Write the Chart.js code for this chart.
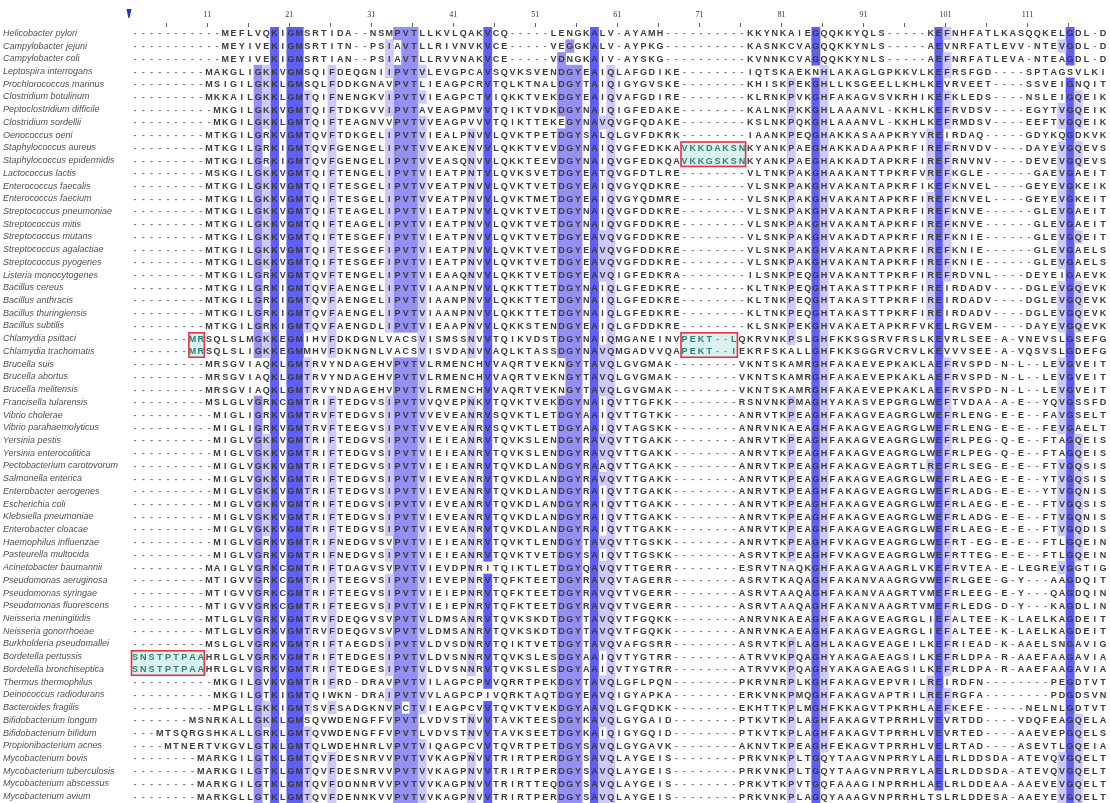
<!DOCTYPE html>
<html>
<head>
<meta charset="utf-8">
<script src="https://cdn.jsdelivr.net/npm/chart.js@4.4.1/dist/chart.umd.min.js"></script>
<style>
html,body{margin:0;padding:0;background:#fff;overflow:hidden;}
canvas{display:block;}
</style>
</head>
<body>
<canvas id="c" width="1110" height="803"></canvas>
<script>
// ---------------- DATA ----------------
const species = [
"Helicobacter pylori","Campylobacter jejuni","Campylobacter coli","Leptospira interrogans","Prochlorococcus marinus",
"Clostridium botulinum","Peptoclostridium difficile","Clostridium sordellii","Oenococcus oeni","Staphylococcus aureus",
"Staphylococcus epidermidis","Lactococcus lactis","Enterococcus faecalis","Enterococcus faecium","Streptococcus pneumoniae",
"Streptococcus mitis","Streptococcus mutans","Streptococcus agalactiae","Streptococcus pyogenes","Listeria monocytogenes",
"Bacillus cereus","Bacillus anthracis","Bacillus thuringiensis","Bacillus subtilis","Chlamydia psittaci",
"Chlamydia trachomatis","Brucella suis","Brucella abortus","Brucella melitensis","Francisella tularensis",
"Vibrio cholerae","Vibrio parahaemolyticus","Yersinia pestis","Yersinia enterocolitica","Pectobacterium carotovorum",
"Salmonella enterica","Enterobacter aerogenes","Escherichia coli","Klebsiella pneumoniae","Enterobacter cloacae",
"Haemophilus influenzae","Pasteurella multocida","Acinetobacter baumannii","Pseudomonas aeruginosa","Pseudomonas syringae",
"Pseudomonas fluorescens","Neisseria meningitidis","Neisseria gonorrhoeae","Burkholderia pseudomallei","Bordetella pertussis",
"Bordetella bronchiseptica","Thermus thermophilus","Deinococcus radiodurans","Bacteroides fragilis","Bifidobacterium longum",
"Bifidobacterium bifidum","Propionibacterium acnes","Mycobacterium bovis","Mycobacterium tuberculosis","Mycobacterium abscessus",
"Mycobacterium avium"
];

// alignment columns 1-41 / 42-81 / 82-119
const seqLeft = [
"-----------MEFLVQKIGMSRTIDA--NSMPVTLLKVLQ",
"-----------MEYIVEKIGMSRTITN--PSIAVTLLRIVN",
"-----------MEYIVEKIGMSRTIAN--PSIAVTLLRVVN",
"---------MAKGLIGKKVGMSQIFDEQGNIIPVTVLEVGP",
"---------MSIGILGKKLGMSQLFDDKGNAVPVTLIEAGP",
"---------MKKAILGKKLGMTQIFNENGKVIPVTVIEAGP",
"----------MKGILGKKVGMTQIFTDKGVVIPVTAVEAGP",
"----------MKGILGKKLGMTQIFTEAGNVVPVTVVEAGP",
"---------MTKGILGRKVGMTQVFTDKGELIPVTVIEALP",
"---------MTKGILGRKIGMTQVFGENGELIPVTVVEAKE",
"---------MTKGILGRKIGMTQVFGENGELIPVTVVEASQ",
"---------MSKGILGKKVGMTQIFTENGELIPVTVIEATP",
"---------MTKGILGKKVGMTQIFTESGELIPVTVVEATP",
"---------MTKGILGKKVGMTQIFTESGELIPVTVVEATP",
"---------MTKGILGKKVGMTQIFTEAGELIPVTVIEATP",
"---------MTKGILGKKVGMTQIFTEAGELIPVTVIEATP",
"---------MTKGILGKKVGMTQIFTESGEFIPVTVIEATP",
"---------MTKGILGKKVGMTQIFTESGEFIPVTVIEATP",
"---------MTKGILGKKVGMTQIFTESGEFIPVTVIEATP",
"---------MTKGILGRKVGMTQVFTENGELIPVTVIEAAQ",
"---------MTKGILGRKIGMTQVFAENGELIPVTVIAANP",
"---------MTKGILGRKIGMTQVFAENGELIPVTVIAANP",
"---------MTKGILGRKIGMTQVFAENGELIPVTVIAANP",
"---------MTKGILGRKIGMTQVFAENGDLIPVTVIEAAP",
"-------MRSQLSLMGKKEGMIHVFDKDGNLVACSVISMSS",
"-------MRSQLSLIGKKEGMMHVFDKNGNLVACSVISVDA",
"---------MRSGVIAQKLGMTRVYNDAGEHVPVTVLRMEN",
"---------MRSGVIAQKLGMTRVYNDAGEHVPVTVLRMEN",
"---------MRSGVIAQKLGMTRVYNDAGEHVPVTVLRMEN",
"---------MSLGLVGRKCGMTRIFTEDGVSIPVTVVQVEP",
"----------MIGLIGRKVGMTRVFTEDGVSIPVTVVEVEA",
"----------MIGLIGRKVGMTRVFTEEGVSIPVTVVEVEA",
"----------MIGLVGKKVGMTRIFTEDGVSIPVTVIEIEA",
"----------MIGLVGKKVGMTRIFTEDGVSIPVTVIEIEA",
"----------MIGLVGKKVGMTRIFTEDGVSIPVTVIEIEA",
"----------MIGLVGKKVGMTRIFTEDGVSIPVTVIEVEA",
"----------MIGLVGKKVGMTRIFTEDGVSIPVTVIEVEA",
"----------MIGLVGKKVGMTRIFTEDGVSIPVTVIEVEA",
"----------MIGLVGKKVGMTRIFTEDGVSIPVTVIEVEA",
"----------MIGLVGKKVGMTRIFTEDGVSIPVTVIEVEA",
"----------MIGLVGRKVGMTRIFNEDGVSVPVTVIEIEA",
"----------MIGLVGRKVGMTRIFNEDGVSIPVTVIEIEA",
"---------MAIGLVGRKCGMTRIFTDAGVSVPVTVIEVDP",
"---------MTIGVVGRKCGMTRIFTEEGVSIPVTVIEVEP",
"---------MTIGVVGRKCGMTRIFTEEGVSIPVTVIEIEP",
"---------MTIGVVGRKCGMTRIFTEEGVSIPVTVIEIEP",
"---------MTLGLVGRKVGMTRVFDEQGVSVPVTVLDMSA",
"---------MTLGLVGRKVGMTRVFDEQGVSVPVTVLDMSA",
"---------MSLGLVGRKVGMTRIFTAEGDSIPVTVLDVSD",
"SNSTPTPAAHRLGLVGRKVGMTRIFTEDGESIPVTVLDVSN",
"SNSTPTPAAHRLGLVGRKVGMTRIFTEDGESIPVTVLDVSN",
"----------MKGILGVKVGMTRIFRD-DRAVPVTVILAGP",
"----------MKGILGTKIGMTQIWKN-DRAIPVTVVLAGP",
"----------MPGLLGKKIGMTSVFSADGKNVPCTVIEAGP",
"-------MSNRKALLGKKLGMSQVWDENGFFVPVTLVDVST",
"---MTSQRGSHKALLGRKLGMTQVWDENGFFVPVTLVDVST",
"----MTNERTVKGVLGTKLGMTQLWDEHNRLVPVTVIQAGP",
"--------MARKGILGTKLGMTQVFDESNRVVPVTVVKAGP",
"--------MARKGILGTKLGMTQVFDESNRVVPVTVVKAGP",
"--------MARKGILGTKLGMTQVFDDNNRVVPVTVVKAGP",
"--------MARKGLLGTKLGMTQVFDENNKVVPVTVVKAGP"
];
const seqMid = [
"AKVCQ-----LENGKALV-AYAMH----------KKYNKA",
"VKVCE-----VEGGKALV-AYPKG----------KASNKC",
"AKVCE-----VDNGKAIV-AYSKG----------KVNNKC",
"CAVSQVKSVENDGYEAIQLAFGDIKE--------IQTSKA",
"CRVTQLKTNALDGYTAIQIGYGVSKE--------KHISKP",
"CTVIQKKTVEKDGYEAIQVAFGDIRE--------KLRNKP",
"MVVTQIKTVDKDGYNAIQIGFEDAKE--------KALNKP",
"VVVTQIKTTEKEGYNAVQVGFQDAKE--------KSLNKP",
"NVVLQVKTPETDGYSALQLGVFDKRK--------IAANKP",
"NVVLQKKTVEVDGYNAIQVGFEDKKAVKKDAKSNKYANKP",
"NVVLQKKTEEVDGYNAIQVGFEDKQAVKKGSKSNKYANKP",
"NTVLQVKSVETDGYEATQVGFDTLRE--------VLTNKP",
"NVVLQVKTVETDGYEAIQVGYQDKRE--------VLSNKP",
"NVVLQVKTMETDGYEAIQVGYQDMRE--------VLSNKP",
"NVVLQVKTVETDGYNAIQVGFDDKRE--------VLSNKP",
"NVVLQVKTVETDGYNAIQVGFDDKRE--------VLSNKP",
"NVVLQVKTVETDGYEAVQVGFDDKRE--------VLSNKP",
"NVVLQVKTVETDGYEAVQVGFDDKRE--------VLSNKP",
"NVVLQVKTVETDGYEAVQVGFDDKRE--------VLSNKP",
"NVVLQKKTVETDGYEAVQIGFEDKRA--------ILSNKP",
"NVVLQKKTTETDGYNAIQLGFEDKRE--------KLTNKP",
"NVVLQKKTTETDGYNAIQLGFEDKRE--------KLTNKP",
"NVVLQKKTTETDGYNAIQLGFEDKRE--------KLTNKP",
"NVVLQKKSTENDGYEAIQLGFDDKRE--------KLSNKP",
"NVVTQIKVDSTDGYNAIQMGANEINVPEKT--LQKRVNKP",
"NVVAQLKTASSDGYNAVQMGADVVQAPEKT--IEKRFSKA",
"CHVVAQRTVEKNGYTAVQLGVGMAK--------VKNTSKA",
"CHVVAQRTVEKNGYTAVQLGVGMAK--------VKNTSKA",
"CHVVAQRTVEKNGYTAVQLGVGMAK--------VKNTSKA",
"NKVTQVKTVEKDGYNAIQVTTGFKK--------RSNVNKP",
"NRVSQVKTLETDGYAAIQVTTGTKK--------ANRVTKP",
"NRVSQVKTLETDGYAAIQVTAGSKK--------ANRVNKA",
"NRVTQVKSLENDGYRAVQVTTGAKK--------ANRVTKP",
"NRVTQVKSLENDGYRAVQVTTGAKK--------ANRVTKP",
"NRVTQVKDLANDGYRAAQVTTGAKK--------ANRVTKP",
"NRVTQVKDLANDGYRAVQVTTGAKK--------ANRVTKP",
"NRVTQVKDLANDGYRAIQVTTGAKK--------ANRVTKP",
"NRVTQVKDLANDGYRAIQVTTGAKK--------ANRVTKP",
"NRVTQVKDLANDGYRAIQVTTGAKK--------ANRVTKP",
"NRVTQVKDLANDGYRAIQVTTGAKK--------ANRVTKP",
"NRVTQVKTLENDGYTAVQVTTGSKK--------ANRVTKP",
"NRVTQVKTVETDGYSAIQVTTGSKK--------ASRVTKP",
"NRITQIKTLETDGYQAVQVTTGERR--------ESRVTNA",
"NRVTQFKTEETDGYRAVQVTAGERR--------ASRVTKA",
"NRVTQFKTEETDGYRAVQVTVGERR--------ASRVTAA",
"NRVTQFKTEETDGYRAVQVTVGERR--------ASRVTAA",
"NRVTQVKSKDTDGYTAVQVTFGQKK--------ANRVNKA",
"NRVTQVKSKDTDGYTAVQVTFGQKK--------ANRVNKA",
"NRVTQIKTVETDGYTAVQVAFGSRR--------ASRVTKP",
"NRVTQVKSLESDGYAAIQVTYGTRR--------ATRVVKP",
"NRVTQVKSLESDGYAAIQVTYGTRR--------ATRVVKP",
"CPVVQRRTPEKDGYTAVQLGFLPQN--------PKRVNRP",
"CPIVQRKTAQTDGYEAVQIGYAPKA--------ERKVNKP",
"CVVTQVKTVEKDGYAAVQLGFQDKK--------EKHTTKP",
"NVVTAVKTEESDGYKAVQLGYGAID--------PTKVTKP",
"NVVTAVKSEETDGYKAIQIGYGQID--------PTKVTKP",
"CVVTQVRTPETDGYSAVQLGYGAVK--------AKNVTKP",
"NVVTRIRTPERDGYSAVQLAYGEIS--------PRKVNKP",
"NVVTRIRTPERDGYSAVQLAYGEIS--------PRKVNKP",
"NVVTRIRTTEQDGYSAVQLAYGEIS--------PRKVTKP",
"NVVTRIRTPERDGYSAVQLAYGEIS--------PRKVNKP"
];
const seqRight = [
"IEGQQKKYQLS-----KEFNHFATLKASQQKELGDL-D",
"VAGQQKKYNLS-----AEVNRFATLEVV-NTEVGDL-D",
"VAGQQKKYNLS-----AEFNRFATLEVA-NTEAGDL-D",
"EKNHLAKAGLGPKKVLKEFRSFGD----SPTAGSVLKI",
"EKGHLLKSGEELLKHLKEVRVEET----SSVEIGNQIT",
"VKGHFAKAGVSVKRHIKEFKLEDS----NSLEIGQEIK",
"KKGHLAAANVL-KKHLKEFRVDSV----EGYTVGQEIK",
"QKGHLAAANVL-KKHLKEFRMDSV----EEFTVGQEIK",
"EQGHAKKASAAPKRYVREIRDAQ-----GDYKQGDKVK",
"AEGHAKKADAAPKRFIREFRNVDV----DAYEVGQEVS",
"AEGHAKKADTAPKRFIREFRNVNV----DEVEVGQEVS",
"AKGHAAKANTTPKRFVREFKGLE------GAEVGAEIT",
"AKGHVAKANTAPKRFIKEFKNVEL----GEYEVGKEIK",
"AKGHVAKANTAPKRFIREFKNVEL----GEYEVGKEIT",
"AKGHVAKANTAPKRFIREFKNVE------GLEVGAEIT",
"AKGHVAKANTAPKRFIREFKNVE------GLEVGAEIT",
"AKGHVAKADTAPKRFIREFKNIE------GLEVGQEIT",
"AKGHVAKANTAPKRFIREFKNIE------GLEVGAELS",
"AKGHVAKANTAPKRFIREFKNIE------GLEVGAELS",
"EQGHVAKANTTPKRFIREFRDVNL----DEYEIGAEVK",
"EQGHTAKASTTPKRFIREIRDADV----DGLEVGQEVK",
"EQGHTAKASTTPKRFIREIRDADV----DGLEVGQEVK",
"EQGHTAKASTTPKRFIREIRDADV----DGLEVGQEVK",
"EKGHVAKAETAPKRFVKELRGVEM----DAYEVGQEVK",
"SLGHFKKSGSRVFRSLKEVRLSEE-A-VNEVSLGSEFG",
"LLGHFKKSGGRVCRVLKEVVVSEE-A-VQSVSLGDEFG",
"MRGHFAKAEVEPKAKLAEFRVSPD-N-L--LEVGVEIT",
"MRGHFAKAEVEPKAKLAEFRVSPD-N-L--LEVGVEIT",
"MRGHFAKAEVEPKAKLAEFRVSPD-N-L--LEVGVEIT",
"MAGHYAKASVEPGRGLWEFTVDAA-A-E--YQVGSSFD",
"EAGHFAKAGVEAGRGLWEFRLENG-E-E--FAVGSELT",
"EAGHFAKAGVEAGRGLWEFRLENG-E-E--FEVGAELT",
"EAGHFAKAGVEAGRGLWEFRLPEG-Q-E--FTAGQEIS",
"EAGHFAKAGVEAGRGLWEFRLPEG-Q-E--FTAGQEIS",
"EAGHFAKAGVEAGRTLREFRLSEG-E-E--FTVGQSIS",
"EAGHFAKAGVEAGRGLWEFRLAEG-E-E--YTVGQSIS",
"EAGHFAKAGVEAGRGLWEFRLADG-E-E--YTVGQNIS",
"EAGHFAKAGVEAGRGLWEFRLAEG-E-E--FTVGQSIS",
"EAGHFAKAGVEAGRGLWEFRLADG-E-E--FTVGQNIS",
"EAGHFAKAGVEAGRGLWEFRLAEG-E-E--FTVGQDIS",
"EAGHFVKAGVEAGRGLWEFRT-EG-E-E--FTLGQEIN",
"EAGHFVKAGVEAGRGLWEFRTTEG-E-E--FTLGQEIN",
"QKGHFAKAGVAAGRLVKEFRVTEA-E-LEGREVGGTIG",
"QAGHFAKANVAAGRGVWEFRLGEE-G-Y---AAGDQIT",
"QAGHFAKANVAAGRTVMEFRLEEG-E-Y---QAGDQIN",
"QAGHFAKANVAAGRTVMEFRLEDG-D-Y---KAGDLIN",
"EAGHFAKAGVEAGRGLIEFALTEE-K-LAELKAGDEIT",
"EAGHFAKAGVEAGRGLIEFALTEE-K-LAELKAGDEIT",
"LAGHLAKAGVEAGEILKEFRIEAD-K-AAELSNGAVIG",
"QAGHYAKAGAEAGSILKEFRLDPA-R-AAEFAAGAVIA",
"QAGHYAKAGAEAGSILKEFRLDPA-R-AAEFAAGAVIA",
"LKGHFAKAGVEPVRILREIRDFN--------PEGDTVT",
"MQGHFAKAGVAPTRILREFRGFA--------PDGDSVN",
"LMGHFKKAGVTPKRHLAEFKEFE-----NELNLGDTVT",
"LAGHFAKAGVTPRRHLVEVRTDD----VDQFEAGQELA",
"LAGHFAKAGVTPRRHLVEVRTED----AAEVEPGQELS",
"EAGHFEKAGVTPRRHLVELRTAD----ASEVTLGQEIA",
"LTGQYTAAGVNPRRYLAELRLDDSDA-ATEVQVGQELT",
"LTGQYTAAGVNPRRYLAELRLDDSDA-ATEVQVGQELT",
"VTGQFAAAGINPRRHLAELRLDDEAA-AAEVEVGQELT",
"LAGQYAAAGVNPRRHLTSLRLDDESA-AAEYEVGQELT"
];

const rulerNumbers = [11,21,31,41,51,61,71,81,91,101,111];
const rulerDots = [6,16,26,36,46,56,66,76,86,96,106,116];

// sequence groups (1-based rows / columns)
const groupRows = [[10,11],[25,26],[25,26],[50,51]];
const groupCols = [[68,75],[8,9],[68,74],[1,9]];

// identity shading: column -> level (3 dark, 2 medium, 1 light)
const shadeColumns = [16,17,18,20,21,22,25,32,33,34,35,36,42,44,53,54,55,57,58,59,81,84,85,98,99,100,114,115,116];
const shadeLevels  = [ 2, 1, 3, 3, 3, 1, 1, 1, 2, 2, 2, 1, 1, 3, 2, 2, 2, 3, 1, 1, 1, 3, 1, 1, 3, 1, 1, 3, 1];
const shadeColors = {3:'#5f5ff5', 2:'#9490f4', 1:'#cdc9f8'};

// ---------------- BUILD ----------------
const alignment = species.map((s,i)=>seqLeft[i]+seqMid[i]+seqRight[i]);
const nCols = 119;
alignment.forEach((s,i)=>{ if(s.length!==nCols) console.warn('row',i+1,'length',s.length); });

const cellSets = {1:[],2:[],3:[]};
shadeColumns.forEach((col,k)=>{
  const c = col-1;
  const counts = {};
  alignment.forEach(s=>{ const ch=s[c]; if(ch && ch!=='-'){ counts[ch]=(counts[ch]||0)+1; } });
  let best=null, bestN=0;
  Object.keys(counts).forEach(key=>{ if(counts[key]>bestN){bestN=counts[key];best=key;} });
  alignment.forEach((s,r)=>{
    if(s[c]===best) cellSets[shadeLevels[k]].push({x:[col-0.5,col+0.5], y:species[r]});
  });
});

function inGroup(r,c){
  for(let g=0;g<groupRows.length;g++){
    if(r>=groupRows[g][0]&&r<=groupRows[g][1]&&c>=groupCols[g][0]&&c<=groupCols[g][1]) return true;
  }
  return false;
}

const seqPlugin = {
  id:'seqText',
  afterDatasetsDraw(chart){
    const {ctx, scales:{x,y}} = chart;
    const rh = y.getPixelForValue(1)-y.getPixelForValue(0);
    ctx.save();
    ctx.fillStyle = '#d9f1ef';
    groupRows.forEach((gr,g)=>{
      const x0=x.getPixelForValue(groupCols[g][0]-0.5), x1=x.getPixelForValue(groupCols[g][1]+0.5);
      const y0=y.getPixelForValue(gr[0]-1)-rh/2, y1=y.getPixelForValue(gr[1]-1)+rh/2;
      ctx.fillRect(x0,y0,x1-x0,y1-y0);
    });
    ctx.font = "bold 9px 'Liberation Sans', Arial, sans-serif";
    ctx.textAlign='center';
    ctx.textBaseline='middle';
    alignment.forEach((s,r)=>{
      const py = y.getPixelForValue(r)+0.5;
      for(let c=0;c<s.length;c++){
        const ch=s[c];
        const px=x.getPixelForValue(c+1);
        if(inGroup(r+1,c+1)) ctx.fillStyle = ch==='-' ? '#6a9a94' : '#2f7f74';
        else ctx.fillStyle = ch==='-' ? '#7a7a7a' : '#3a3a3a';
        ctx.fillText(ch, px, py);
      }
    });
    ctx.strokeStyle='#e8323e';
    ctx.lineWidth=1.6;
    groupRows.forEach((gr,g)=>{
      const x0=x.getPixelForValue(groupCols[g][0]-0.5), x1=x.getPixelForValue(groupCols[g][1]+0.5);
      const y0=y.getPixelForValue(gr[0]-1)-rh/2, y1=y.getPixelForValue(gr[1]-1)+rh/2;
      ctx.strokeRect(x0+0.5,y0+0.5,x1-x0-1,y1-y0-1);
    });
    const mx = x.getPixelForValue(0.25);
    ctx.fillStyle='#2233d0';
    ctx.beginPath();
    ctx.moveTo(mx-2.5,9);
    ctx.lineTo(mx+2.5,9);
    ctx.lineTo(mx+0.6,18);
    ctx.lineTo(mx-0.6,18);
    ctx.closePath();
    ctx.fill();
    ctx.restore();
  }
};

const rulerShift = 1.2;
const rulerValues = rulerNumbers.concat(rulerDots).sort((a,b)=>a-b);

new Chart(document.getElementById('c'), {
  type:'bar',
  data:{
    labels: species,
    datasets: [1,2,3].map(l=>({
      data:cellSets[l],
      backgroundColor:shadeColors[l],
      borderWidth:0,
      barPercentage:1,
      categoryPercentage:1,
      grouped:false
    }))
  },
  options:{
    indexAxis:'y',
    responsive:false,
    animation:false,
    devicePixelRatio:1,
    events:[],
    layout:{padding:{left:3,right:3,top:0,bottom:0}},
    plugins:{legend:{display:false},tooltip:{enabled:false}},
    scales:{
      x:{
        type:'linear',
        position:'top',
        min:0.5,
        max:nCols+0.5,
        afterBuildTicks(axis){ axis.ticks = rulerValues.map(v=>({value:v-rulerShift})); },
        afterFit(axis){ axis.height=27; axis.paddingLeft=0; axis.paddingRight=0; },
        ticks:{
          autoSkip:false,
          maxRotation:0,
          padding:3,
          color:'#333',
          font:{family:"'Liberation Serif', 'DejaVu Serif', serif", size:8},
          callback(v){ const n=Math.round(v+rulerShift); return rulerNumbers.includes(n)?String(n):''; }
        },
        grid:{display:true,drawOnChartArea:false,drawTicks:true,tickLength:4,tickColor:'#666',tickWidth:1},
        border:{display:false}
      },
      y:{
        type:'category',
        offset:true,
        afterFit(axis){ axis.width=128; axis.paddingTop=0; axis.paddingBottom=0; },
        ticks:{
          autoSkip:false,
          crossAlign:'far',
          padding:0,
          color:'#505050',
          font:{family:"'Liberation Sans', Arial, sans-serif", size:9, style:'italic'}
        },
        grid:{display:false},
        border:{display:false}
      }
    }
  },
  plugins:[seqPlugin]
});
</script>
</body>
</html>
